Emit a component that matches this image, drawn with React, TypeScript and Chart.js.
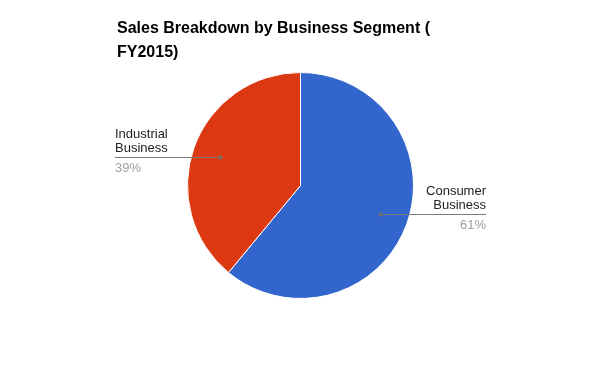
import React, { useEffect, useRef } from 'react';
import { Chart, registerables } from 'chart.js';

Chart.register(...registerables);

const categories = ['Consumer Business', 'Industrial Business'];
const labelLines = [
  ['Consumer', 'Business'],
  ['Industrial', 'Business'],
];
const values = [61, 39];
const colors = ['#3366cc', '#dc3912'];
const titleLines = ['Sales Breakdown by Business Segment (', 'FY2015)'];

const FONT = 'Arial, "Liberation Sans", sans-serif';

const overlayPlugin = {
  id: 'overlay',
  afterDraw(chart: any) {
    const ctx = chart.ctx as CanvasRenderingContext2D;
    // Title
    ctx.save();
    ctx.fillStyle = '#000000';
    ctx.font = `bold 16px ${FONT}`;
    ctx.textAlign = 'left';
    ctx.textBaseline = 'alphabetic';
    titleLines.forEach((t, i) => ctx.fillText(t, 117, 33 + i * 24));
    ctx.restore();

    // Slice labels with leader lines
    const meta = chart.getDatasetMeta(0);
    const data = chart.data.datasets[0].data as number[];
    const total = data.reduce((a, b) => a + b, 0);
    meta.data.forEach((arc: any, i: number) => {
      const { x, y, startAngle, endAngle, outerRadius } = arc.getProps(
        ['x', 'y', 'startAngle', 'endAngle', 'outerRadius'],
        true
      );
      const mid = (startAngle + endAngle) / 2;
      const dx = x + Math.cos(mid) * outerRadius * 0.755;
      const dy = Math.round(y + Math.sin(mid) * outerRadius * 0.755) + 0.5;
      const right = Math.cos(mid) > 0;
      const tx = right ? x + 185.5 : x - 185.5;

      ctx.save();
      ctx.strokeStyle = '#7a7a7a';
      ctx.lineWidth = 1;
      ctx.beginPath();
      ctx.moveTo(dx, dy);
      ctx.lineTo(tx, dy);
      ctx.stroke();
      ctx.fillStyle = '#6f6f6f';
      ctx.beginPath();
      ctx.arc(dx, dy, 2, 0, Math.PI * 2);
      ctx.fill();

      ctx.font = `13px ${FONT}`;
      ctx.textAlign = right ? 'right' : 'left';
      ctx.textBaseline = 'alphabetic';
      ctx.fillStyle = '#222222';
      const lines = labelLines[i];
      ctx.fillText(lines[0], tx, dy - 20);
      ctx.fillText(lines[1], tx, dy - 6);
      ctx.fillStyle = '#9e9e9e';
      ctx.fillText(Math.round((data[i] / total) * 100) + '%', tx, dy + 14);
      ctx.restore();
    });
  },
};

export default function App() {
  const ref = useRef<HTMLCanvasElement | null>(null);

  useEffect(() => {
    if (!ref.current) return;
    const chart = new Chart(ref.current, {
      type: 'pie',
      data: {
        labels: categories,
        datasets: [
          {
            data: values,
            backgroundColor: colors,
            borderColor: '#ffffff',
            borderWidth: 1,
            hoverOffset: 0,
          },
        ],
      },
      options: {
        responsive: false,
        animation: false,
        devicePixelRatio: 1,
        layout: { padding: { top: 72, bottom: 72, left: 101, right: 100 } },
        plugins: {
          legend: { display: false },
          tooltip: { enabled: false },
          title: { display: false },
        },
      },
      plugins: [overlayPlugin],
    });
    return () => chart.destroy();
  }, []);

  return (
    <div style={{ position: 'fixed', left: 0, top: 0, width: 600, height: 371, background: '#ffffff' }}>
      <canvas ref={ref} width={600} height={371} />
    </div>
  );
}
